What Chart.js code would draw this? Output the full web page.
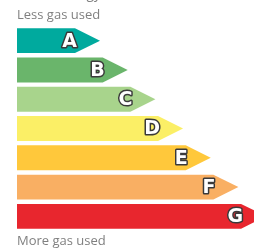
<!DOCTYPE html>
<html>
<head>
<meta charset="utf-8">
<script src="https://cdn.jsdelivr.net/npm/chart.js@4"></script>
<style>
  html, body { margin: 0; padding: 0; background: #fff; }
  #energyChart { display: block; }
</style>
</head>
<body>
<canvas id="energyChart" width="255" height="248"></canvas>
<script>
//Chart data
const bands = ["A", "B", "C", "D", "E", "F", "G"];
const ratings = [3, 4, 5, 6, 7, 8, 9]; //arrow length, tip included
const bandColors = ["#00AA9E", "#6AB56B", "#A8D48C", "#FBEF66", "#FFC83B", "#F9AF63", "#E8262E"];
const topLabel = "Less gas used";
const bottomLabel = "More gas used";
const titleText = "Energy";

//Draw arrow shapes and letters over the (invisible) bars
const arrowPlugin = {
    id: "arrows",
    afterDatasetsDraw(chart) {
        const ctx = chart.ctx;
        const meta = chart.getDatasetMeta(0);
        const area = chart.chartArea;
        const head = 25;

        meta.data.forEach((bar, i) => {
            const top = bar.y - bar.height / 2;
            const bottom = bar.y + bar.height / 2;
            const tip = bar.x;
            const bodyEnd = tip - head;
            const drawnTip = Math.min(tip, area.right - 1);
            const slope = (bar.height / 2) / head;
            const cut = (tip - drawnTip) * slope; //flatten the tip if clipped

            ctx.save();
            ctx.fillStyle = bandColors[i];
            ctx.beginPath();
            ctx.moveTo(bar.base, top);
            ctx.lineTo(bodyEnd, top);
            ctx.lineTo(drawnTip, bar.y - cut);
            ctx.lineTo(drawnTip, bar.y + cut);
            ctx.lineTo(bodyEnd, bottom);
            ctx.lineTo(bar.base, bottom);
            ctx.closePath();
            ctx.fill();

            //Outlined letter
            ctx.font = "bold 19px 'DejaVu Sans'";
            ctx.textAlign = "right";
            ctx.textBaseline = "middle";
            ctx.lineJoin = "round";
            ctx.lineWidth = 3;
            ctx.strokeStyle = "#3a3a3a";
            ctx.strokeText(bands[i], tip - 23, bar.y + 1);
            ctx.fillStyle = "#ffffff";
            ctx.fillText(bands[i], tip - 23, bar.y + 1);
            ctx.restore();
        });

        //Side captions
        ctx.save();
        ctx.font = "13px 'Open Sans'";
        ctx.fillStyle = "#808080";
        ctx.textAlign = "left";
        ctx.textBaseline = "middle";
        ctx.fillText(topLabel, area.left, 15);
        ctx.fillText(bottomLabel, area.left, 241);
        ctx.textAlign = "right";
        ctx.textBaseline = "alphabetic";
        ctx.font = "14px 'Open Sans'";
        ctx.fillText(titleText, 101, -2);
        ctx.restore();
    }
};

const ctx = document.getElementById("energyChart").getContext("2d");
new Chart(ctx, {
    type: "bar",
    data: {
        labels: bands,
        datasets: [{
            data: ratings,
            backgroundColor: "rgba(0,0,0,0)",
            barPercentage: 0.85,
            categoryPercentage: 1
        }]
    },
    options: {
        indexAxis: "y",
        responsive: false,
        animation: false,
        devicePixelRatio: 1,
        layout: { padding: { left: 17, right: 0, top: 26, bottom: 17 } },
        scales: {
            x: { display: false, min: 0, max: 8.6 },
            y: { display: false }
        },
        plugins: {
            legend: { display: false },
            tooltip: { enabled: false }
        }
    },
    plugins: [arrowPlugin]
});
</script>
</body>
</html>
